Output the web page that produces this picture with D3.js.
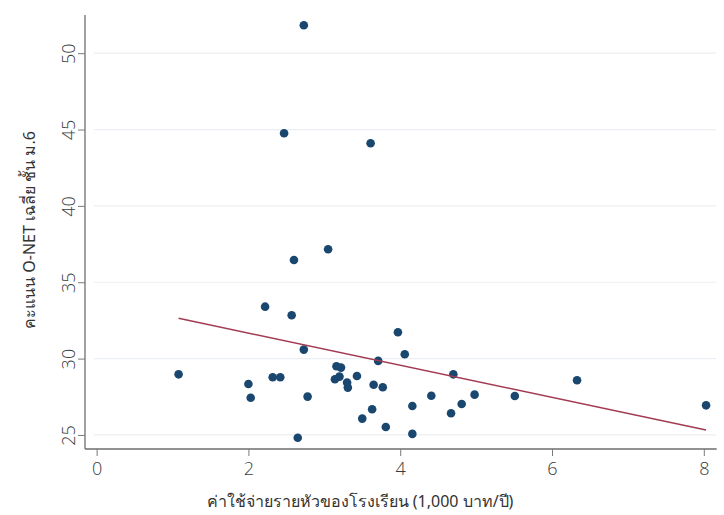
<!DOCTYPE html>
<html>
<head>
<meta charset="utf-8">
<script src="https://cdn.jsdelivr.net/npm/d3@7"></script>
<style>
  body { margin: 0; background: #fff; }
  svg { display: block; }
</style>
</head>
<body>
<svg id="chart" width="724" height="515"></svg>
<script>
// ---- data ----
const spend = [2.73, 2.47, 3.61, 3.05, 2.60, 2.22, 2.57, 3.97, 2.73, 4.06, 3.71, 3.16, 3.22,
               4.70, 1.08, 2.00, 2.32, 2.42, 3.14, 3.20, 3.43, 3.30, 3.31, 3.65, 3.77,
               2.03, 2.78, 4.41, 4.98, 4.81, 4.16, 3.63, 4.67, 3.50, 3.81, 4.16, 2.65,
               5.51, 6.33, 8.03];
const score = [51.83, 44.76, 44.10, 37.16, 36.46, 33.40, 32.84, 31.73, 30.59, 30.28, 29.85, 29.50, 29.41,
               28.97, 28.97, 28.34, 28.78, 28.78, 28.65, 28.82, 28.86, 28.43, 28.10, 28.29, 28.12,
               27.44, 27.51, 27.57, 27.64, 27.03, 26.90, 26.68, 26.42, 26.07, 25.52, 25.07, 24.82,
               27.55, 28.58, 26.94];
const fitX = [1.08, 8.03];
const fitY = [32.64, 25.33];
const xTicks = [0, 2, 4, 6, 8];
const yTicks = [25, 30, 35, 40, 45, 50];
const xTitle = "ค่าใช้จ่ายรายหัวของโรงเรียน (1,000 บาท/ปี)";
const yTitle = "คะแนน O-NET เฉลี่ย ชั้น ม.6";

// ---- chart ----
const svg = d3.select("#chart");
const font = "'Noto Sans', 'DejaVu Sans', sans-serif";
const tickFont = "'Open Sans', 'Noto Sans', sans-serif";
const x = d3.scaleLinear().domain([-0.153, 8.17]).range([85, 716.7]);
const y = d3.scaleLinear().domain([24.08, 52.5]).range([449, 15]);

// grid
svg.append("g").selectAll("line").data(yTicks).join("line")
  .attr("x1", 94).attr("x2", 716)
  .attr("y1", d => y(d)).attr("y2", d => y(d))
  .attr("stroke", "#ebeef2").attr("stroke-width", 1.2);

// axes
const yAxis = d3.axisLeft(y).tickValues(yTicks).tickSize(7).tickPadding(5);
const gy = svg.append("g").attr("transform", "translate(85,0)").call(yAxis);
gy.select(".domain").attr("stroke", "#6e6e6e").attr("stroke-width", 1.3).attr("d", "M0,15V449");
gy.selectAll(".tick line").attr("stroke", "#7a7a7a");
gy.selectAll(".tick text")
  .attr("font-family", tickFont).attr("font-weight", 300).attr("font-size", 18).attr("fill", "#3a3a3a")
  .attr("transform", "rotate(-90)")
  .attr("x", 0).attr("y", -10).attr("dy", 0)
  .attr("text-anchor", "middle");

const xAxis = d3.axisBottom(x).tickValues(xTicks).tickSize(7).tickPadding(5);
const gx = svg.append("g").attr("transform", "translate(0,449)").call(xAxis);
gx.select(".domain").attr("stroke", "#6e6e6e").attr("stroke-width", 1.3).attr("d", "M85,0H716.7");
gx.selectAll(".tick line").attr("stroke", "#7a7a7a");
gx.selectAll(".tick text")
  .attr("font-family", tickFont).attr("font-weight", 300).attr("font-size", 18).attr("fill", "#3a3a3a")
  .attr("y", 26).attr("dy", 0);

// points
const pts = spend.map((v, i) => ({x: v, y: score[i]}));
svg.append("g").selectAll("circle").data(pts).join("circle")
  .attr("cx", d => x(d.x)).attr("cy", d => y(d.y)).attr("r", 4.3)
  .attr("fill", "#1a476f");

// fit line
const fit = fitX.map((v, i) => [v, fitY[i]]);
svg.append("path").datum(fit)
  .attr("d", d3.line().x(d => x(d[0])).y(d => y(d[1])))
  .attr("fill", "none").attr("stroke", "#a33a52").attr("stroke-width", 1.5);

// titles
svg.append("text").attr("x", 360).attr("y", 507)
  .attr("text-anchor", "middle").attr("font-family", font).attr("font-size", 16).attr("fill", "#333")
  .text(xTitle);
svg.append("text").attr("transform", "translate(35,230) rotate(-90)")
  .attr("text-anchor", "middle").attr("font-family", font).attr("font-size", 16).attr("fill", "#333")
  .text(yTitle);
</script>
</body>
</html>
